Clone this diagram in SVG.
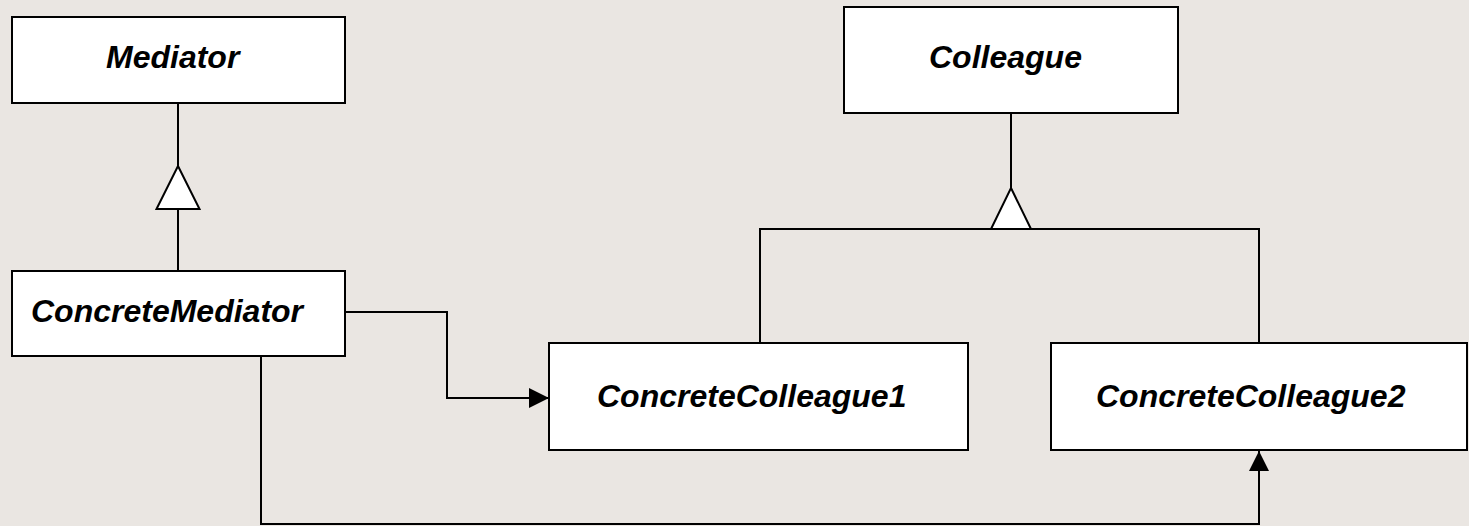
<svg xmlns="http://www.w3.org/2000/svg" width="1469" height="526" viewBox="0 0 1469 526">
<style>
.box{fill:#ffffff;stroke:#000;stroke-width:2}
.lbl{font-family:"Liberation Sans",Arial,sans-serif;font-size:32px;font-weight:bold;font-style:italic;fill:#000}
.ln{fill:none;stroke:#000;stroke-width:2}
.tri{fill:#fff;stroke:#000;stroke-width:2;stroke-linejoin:miter}
</style>
<defs>
<marker id="arr" markerWidth="20" markerHeight="20" refX="20" refY="10" orient="auto" markerUnits="userSpaceOnUse">
<path d="M0,0 L20,10 L0,20 Z" fill="#000"/>
</marker>
</defs>
<rect width="1469" height="526" fill="#EAE6E2"/>
<g id="connectors">
<line class="ln" x1="178" y1="103" x2="178" y2="166"/>
<polygon class="tri" points="178,166 199.5,209 156.5,209"/>
<line class="ln" x1="178" y1="209" x2="178" y2="271"/>
<line class="ln" x1="1011" y1="113" x2="1011" y2="188"/>
<polygon class="tri" points="1011,188 1031,229 991,229"/>
<polyline class="ln" points="760,343 760,229 991,229"/>
<polyline class="ln" points="1031,229 1259,229 1259,343"/>
<polyline class="ln" points="345,312 447,312 447,398 549,398" marker-end="url(#arr)"/>
<polyline class="ln" points="261,356 261,524 1259,524 1259,451" marker-end="url(#arr)"/>
</g>
<g id="mediator">
<rect class="box" x="12" y="17" width="333" height="86"/>
<text class="lbl" x="106" y="68">Mediator</text>
</g>
<g id="concrete-mediator">
<rect class="box" x="12" y="271" width="333" height="85"/>
<text class="lbl" x="31" y="322">ConcreteMediator</text>
</g>
<g id="colleague">
<rect class="box" x="844" y="7" width="334" height="106"/>
<text class="lbl" x="929" y="68">Colleague</text>
</g>
<g id="concrete-colleague1">
<rect class="box" x="549" y="343" width="419" height="107"/>
<text class="lbl" x="597" y="407">ConcreteColleague1</text>
</g>
<g id="concrete-colleague2">
<rect class="box" x="1051" y="343" width="416" height="107"/>
<text class="lbl" x="1096" y="407">ConcreteColleague2</text>
</g>
</svg>
